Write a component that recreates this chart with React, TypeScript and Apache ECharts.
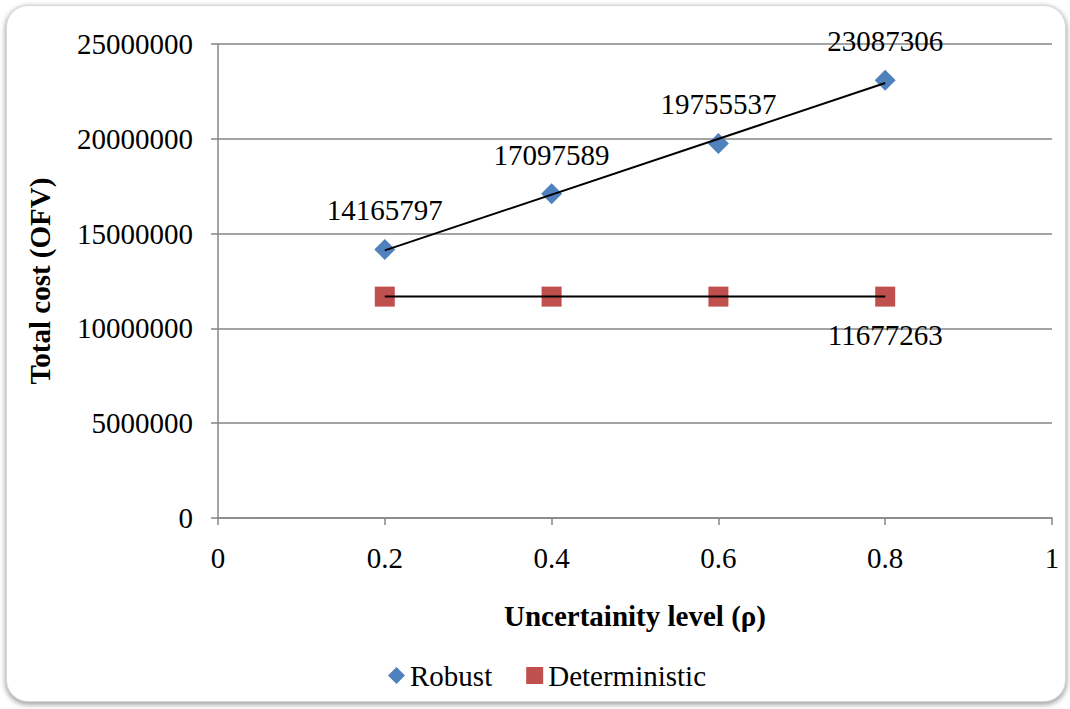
import React, { useEffect, useRef } from "react";
import * as echarts from "echarts";

const xValues = [0.2, 0.4, 0.6, 0.8];
const robustValues = [14165797, 17097589, 19755537, 23087306];
const deterministicValues = [11677263, 11677263, 11677263, 11677263];
const xTicks = [0, 0.2, 0.4, 0.6, 0.8, 1];
const yMax = 25000000;
const yInterval = 5000000;

function linearFit(xs: number[], ys: number[]) {
  const n = xs.length;
  const mx = xs.reduce((a, b) => a + b, 0) / n;
  const my = ys.reduce((a, b) => a + b, 0) / n;
  let sxy = 0;
  let sxx = 0;
  for (let i = 0; i < n; i++) {
    sxy += (xs[i] - mx) * (ys[i] - my);
    sxx += (xs[i] - mx) * (xs[i] - mx);
  }
  const slope = sxx === 0 ? 0 : sxy / sxx;
  const icpt = my - slope * mx;
  return (x: number) => icpt + slope * x;
}

const FONT = "'Liberation Serif', 'Times New Roman', serif";
const FS = 29;

export default function App() {
  const ref = useRef<HTMLDivElement>(null);
  useEffect(() => {
    if (!ref.current) return;
    const chart = echarts.init(ref.current, null, { renderer: "svg" });
    const fr = linearFit(xValues, robustValues);
    const fd = linearFit(xValues, deterministicValues);
    const x0 = xValues[0];
    const x1 = xValues[xValues.length - 1];
    const robustData = xValues.map((x, i) => [x, robustValues[i]]);
    const detData = xValues.map((x, i) => [x, deterministicValues[i]]);
    chart.setOption({
      animation: false,
      backgroundColor: "transparent",
      textStyle: { fontFamily: FONT },
      grid: { left: 218, right: 18, top: 44, bottom: 191 },
      legend: {
        bottom: 14,
        left: 383,
        itemWidth: 17,
        itemHeight: 17,
        itemGap: 34,
        textStyle: { fontFamily: FONT, fontSize: FS, color: "#000" },
        data: [
          { name: "Robust", icon: "diamond" },
          { name: "Deterministic", icon: "rect" },
        ],
      },
      xAxis: {
        type: "value",
        min: xTicks[0],
        max: xTicks[xTicks.length - 1],
        interval: 0.2,
        name: "Uncertainity level (ρ)",
        nameLocation: "middle",
        nameGap: 83,
        nameTextStyle: { fontFamily: FONT, fontSize: FS, fontWeight: "bold", color: "#000" },
        axisLine: { show: true, onZero: false, lineStyle: { color: "#868686", width: 1.5 } },
        axisTick: { show: true, length: 7, inside: false, lineStyle: { color: "#868686", width: 1.5 } },
        splitLine: { show: false },
        axisLabel: {
          margin: 25,
          fontFamily: FONT,
          fontSize: FS,
          color: "#000",
          formatter: (v: number) => String(Math.round(v * 10) / 10),
        },
      },
      yAxis: {
        type: "value",
        min: 0,
        max: yMax,
        interval: yInterval,
        name: "Total cost (OFV)",
        nameLocation: "middle",
        nameGap: 164,
        nameTextStyle: { fontFamily: FONT, fontSize: FS, fontWeight: "bold", color: "#000" },
        axisLine: { show: true, lineStyle: { color: "#868686", width: 1.5 } },
        axisTick: { show: true, length: 7, inside: false, lineStyle: { color: "#868686", width: 1.5 } },
        splitLine: { show: true, lineStyle: { color: "#868686", width: 1.5 } },
        axisLabel: {
          margin: 25,
          fontFamily: FONT,
          fontSize: FS,
          color: "#000",
          formatter: (v: number) => String(Math.round(v)),
        },
      },
      series: [
        {
          name: "Robust trend",
          type: "line",
          data: [
            [x0, fr(x0)],
            [x1, fr(x1)],
          ],
          showSymbol: false,
          symbol: "none",
          silent: true,
          lineStyle: { color: "#000", width: 2 },
          z: 3,
        },
        {
          name: "Deterministic trend",
          type: "line",
          data: [
            [x0, fd(x0)],
            [x1, fd(x1)],
          ],
          showSymbol: false,
          symbol: "none",
          silent: true,
          lineStyle: { color: "#000", width: 2 },
          z: 3,
        },
        {
          name: "Robust",
          type: "scatter",
          data: robustData,
          symbol: "diamond",
          symbolSize: [21, 21],
          itemStyle: { color: "#4F81BD", opacity: 1 },
          z: 2,
          label: {
            show: true,
            position: "top",
            distance: 14,
            fontFamily: FONT,
            fontSize: FS,
            color: "#000",
          },
        },
        {
          name: "Deterministic",
          type: "scatter",
          data: detData.map((d, i) => ({
            value: d,
            label: { show: i === detData.length - 1 },
          })),
          symbol: "rect",
          symbolSize: [20, 20],
          itemStyle: { color: "#C0504D", opacity: 1, borderRadius: 2 },
          z: 2,
          label: {
            show: false,
            position: "bottom",
            distance: 14,
            fontFamily: FONT,
            fontSize: FS,
            color: "#000",
            formatter: (p: any) => String(p.value[1]),
          },
        },
      ],
    });
    return () => chart.dispose();
  }, []);

  return (
    <div style={{ position: "absolute", left: 0, top: 0, width: 1070, height: 709, background: "#fff", overflow: "hidden" }}>
      <div
        style={{
          position: "absolute",
          left: 6,
          top: 5,
          width: 1058,
          height: 695,
          borderRadius: 22,
          border: "1px solid #d8d8d8",
          boxShadow: "0px 2px 5px 1px rgba(0,0,0,0.35)",
          background: "#fff",
        }}
      />
      <div ref={ref} style={{ position: "absolute", left: 0, top: 0, width: 1070, height: 709 }} />
    </div>
  );
}
